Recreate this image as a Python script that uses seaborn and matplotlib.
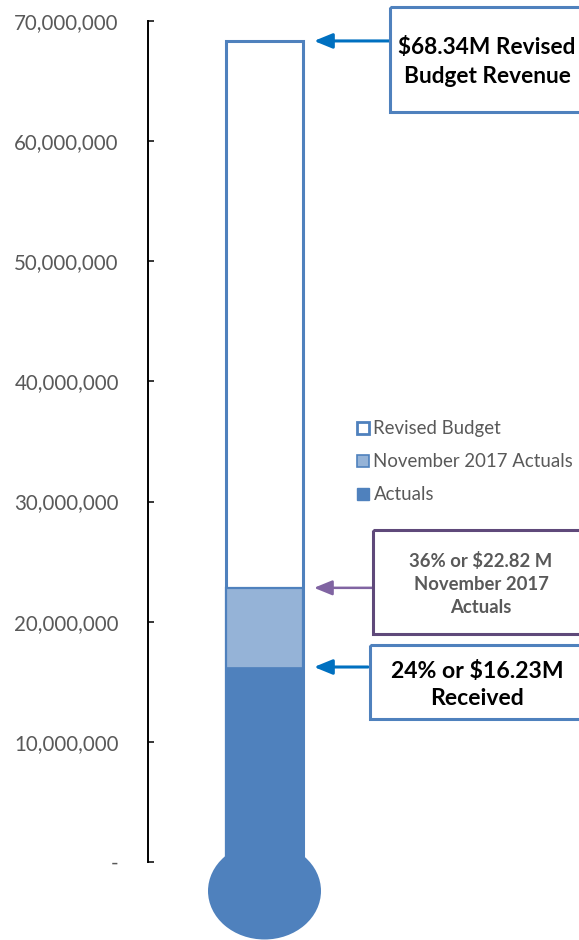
import matplotlib
matplotlib.use("Agg")
import matplotlib.pyplot as plt
import matplotlib.transforms as mtransforms
from matplotlib.patches import Ellipse, Rectangle, Patch
from matplotlib.ticker import FuncFormatter
import pandas as pd
import seaborn as sns

# -----------------------------
# Data
# -----------------------------
categories = ["Revenue"]
revised_budget = [68340000]
november_actuals = [22820000]
actuals = [16230000]
series_labels = ["Revised Budget", "November 2017 Actuals", "Actuals"]
y_ticks = [0, 10000000, 20000000, 30000000, 40000000, 50000000, 60000000, 70000000]

callout_budget = "$68.34M Revised\nBudget Revenue"
callout_november = "36% or $22.82 M\nNovember 2017\nActuals"
callout_actuals = "24% or $16.23M\nReceived"

# colours
DARK = "#4F81BD"
LIGHT = "#95B3D7"
ARROW_BLUE = "#0070C0"
PURPLE_EDGE = "#5F497A"
PURPLE_ARROW = "#8064A2"
GREY = "#595959"

sns.set_theme(style="white")
plt.rcParams["font.family"] = ["Lato", "DejaVu Sans"]

W, H = 579, 940
fig = plt.figure(figsize=(W / 100, H / 100), dpi=100)

# main axes: y axis line at x=148px, 70M at y=21px, 0 at y=862px
ax = fig.add_axes([148 / W, (H - 862) / H, (W - 148) / W, (862 - 21) / H])

df = pd.DataFrame({"cat": categories, "budget": revised_budget,
                   "nov": november_actuals, "act": actuals})

sns.barplot(data=df, x="cat", y="budget", color="white", edgecolor=DARK,
            linewidth=2.2, width=0.8, saturation=1, errorbar=None, ax=ax)
sns.barplot(data=df, x="cat", y="nov", color=LIGHT, edgecolor=DARK,
            linewidth=1.6, width=0.8, saturation=1, errorbar=None, ax=ax)
sns.barplot(data=df, x="cat", y="act", color=DARK, edgecolor=DARK,
            linewidth=0.5, width=0.8, saturation=1, errorbar=None, ax=ax)

# 0.8 units of bar -> 77 px
unit = 77 / 0.8
x0 = -(264.5 - 148) / unit
ax.set_xlim(x0, x0 + (W - 148) / unit)
ax.set_ylim(0, 70000000)

# bulb of the thermometer
px_per_val = (862 - 21) / 70000000
bulb = Ellipse((0, -29 / px_per_val), 113 / unit, 97 / px_per_val,
               color=DARK, clip_on=False, zorder=5, lw=0)
ax.add_patch(bulb)

ax.set_xlabel("")
ax.set_ylabel("")
ax.set_xticks([])
ax.set_yticks(y_ticks)
ax.yaxis.set_major_formatter(FuncFormatter(lambda v, p: "-" if v == 0 else f"{v:,.0f}"))
ax.tick_params(axis="y", direction="in", length=4.5, width=1.1, color="black",
               labelsize=14.8, labelcolor=GREY, pad=21, left=True)
for s in ["top", "right", "bottom"]:
    ax.spines[s].set_visible(False)
ax.spines["left"].set_color("black")
ax.spines["left"].set_linewidth(1.4)
ax.patch.set_alpha(0)

# legend
handles = [
    Patch(facecolor="white", edgecolor=DARK, linewidth=2),
    Patch(facecolor=LIGHT, edgecolor=DARK, linewidth=1.2),
    Patch(facecolor=DARK, edgecolor=DARK, linewidth=1),
]
fig.legend(handles, series_labels, loc="upper left",
           bbox_to_anchor=(348 / W, 1 - 411 / H), frameon=False,
           fontsize=13.4, labelcolor=GREY, handlelength=0.62, handleheight=0.62,
           handletextpad=0.25, labelspacing=0.86, borderpad=0)

# overlay axes in pixel coordinates for callout boxes
# (the boxes run past the right edge of the picture, as in the original)
ov = fig.add_axes([0, 0, 1, 1], zorder=10)
ov.set_xlim(0, W)
ov.set_ylim(H, 0)
ov.axis("off")
ov.patch.set_alpha(0)

ov.add_patch(Rectangle((390, 7), 220, 105, fill=False, edgecolor=DARK, lw=2.2))
ov.text(487, 62, callout_budget, ha="center", va="center", fontsize=16.3,
        fontweight="bold", color="black", linespacing=1.42)

ov.add_patch(Rectangle((373, 530), 220, 104, fill=False, edgecolor=PURPLE_EDGE, lw=2.2))
ov.text(481, 584, callout_november, ha="center", va="center", fontsize=13.3,
        fontweight="bold", color=GREY, linespacing=1.4)

ov.add_patch(Rectangle((370, 645), 220, 74, fill=False, edgecolor=DARK, lw=2.2))
ov.text(477, 685, callout_actuals, ha="center", va="center", fontsize=16.6,
        fontweight="bold", color="black", linespacing=1.4)

# arrows from callouts to bar levels
blend = mtransforms.blended_transform_factory(fig.transFigure, ax.transData)
tip = 0.4 + 11 / unit
arrow_specs = [
    (revised_budget[0], 389, ARROW_BLUE, 2.2),
    (november_actuals[0], 372, PURPLE_ARROW, 1.8),
    (actuals[0], 368, ARROW_BLUE, 2.2),
]
for val, tail_px, col, lw in arrow_specs:
    ax.annotate("", xy=(tip, val), xycoords="data",
                xytext=(tail_px / W, val), textcoords=blend,
                arrowprops=dict(arrowstyle="-|>,head_length=1.1,head_width=0.45",
                                mutation_scale=10, color=col, lw=lw,
                                shrinkA=0, shrinkB=0))

fig.savefig("out.png", dpi=100)
